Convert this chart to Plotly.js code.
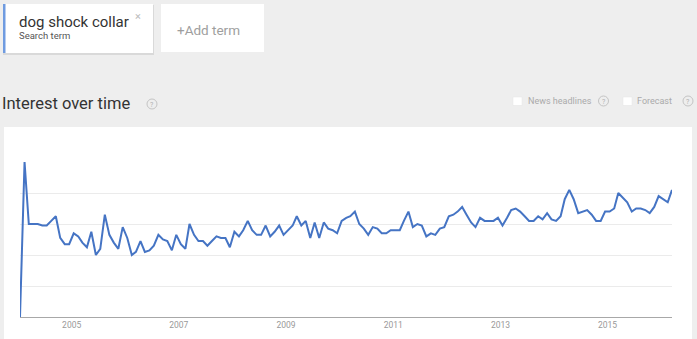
<!DOCTYPE html>
<html>
<head>
<meta charset="utf-8">
<script src="https://cdn.plot.ly/plotly-3.0.1.min.js"></script>
<style>
  html, body { margin: 0; padding: 0; background: #eeeeee; }
  #chart { width: 697px; height: 339px; }
</style>
</head>
<body>
<div id="chart"></div>
<script>
// ---- data ----
const searchTerm = "dog shock collar";
const startYear = 2004;
const startMonth = 1;
const interest = [
  0, 100, 60, 60, 60, 59, 59, 62, 65, 51, 47, 47,
  54, 52, 48, 45, 55, 40, 44, 66, 53, 48, 44, 58,
  51, 40, 42, 49, 42, 43, 46, 53, 50, 49, 43, 53,
  47, 44, 60, 53, 49, 49, 46, 49, 52, 51, 51, 45,
  55, 52, 56, 62, 56, 53, 53, 59, 52, 55, 59, 53,
  56, 59, 65, 59, 62, 51, 61, 51, 61, 57, 56, 54,
  62, 64, 65, 68, 60, 57, 53, 58, 57, 54, 54, 56,
  56, 56, 62, 68, 58, 60, 59, 52, 54, 53, 57, 58,
  65, 66, 68, 71, 66, 61, 58, 64, 62, 62, 62, 64,
  59, 64, 69, 70, 68, 65, 62, 62, 65, 63, 67, 63,
  62, 65, 76, 82, 76, 67, 68, 69, 66, 62, 62, 68,
  68, 70, 80, 77, 74, 68, 70, 70, 69, 67, 71, 78,
  76, 74, 82
];
const tickDates = ["2005-01-01", "2007-01-01", "2009-01-01", "2011-01-01", "2013-01-01", "2015-01-01"];
const tickLabels = ["2005", "2007", "2009", "2011", "2013", "2015"];

// month categories (mid-month)
const months = interest.map((_, i) => {
  const m0 = startMonth - 1 + i;
  const y = startYear + Math.floor(m0 / 12);
  const m = (m0 % 12) + 1;
  return y + "-" + String(m).padStart(2, "0") + "-15";
});

// ---- layout helpers (pixel -> paper) ----
const W = 697, H = 339;
const M = { l: 20, r: 25, t: 162, b: 22 };
const PW = W - M.l - M.r, PH = H - M.t - M.b;
const px = x => (x - M.l) / PW;
const py = y => (H - M.b - y) / PH;

function rect(x0, y0, x1, y1, fill, line) {
  return { type: "rect", xref: "paper", yref: "paper", layer: "below",
    x0: px(x0), x1: px(x1), y0: py(y1), y1: py(y0),
    fillcolor: fill, line: line || { width: 0 } };
}
function circ(cx, cy, r) {
  return { type: "circle", xref: "paper", yref: "paper", layer: "below",
    x0: px(cx - r), x1: px(cx + r), y0: py(cy + r), y1: py(cy - r),
    fillcolor: "rgba(0,0,0,0)", line: { color: "#c4c4c4", width: 1 } };
}
function txt(x, y, text, size, color, anchor) {
  return { xref: "paper", yref: "paper", x: px(x), y: py(y), text: text,
    showarrow: false, xanchor: anchor || "left", yanchor: "middle",
    borderpad: 0, borderwidth: 0,
    font: { family: "Roboto, Arial, sans-serif", size: size, color: color } };
}

const shapes = [
  // chart panel
  rect(4, 127, 692, 339, "#ffffff"),
  // search term card
  rect(3, 5, 154, 55, "#d9d9d9"),
  rect(3, 4, 153, 53, "#ffffff"),
  rect(3, 4, 5.5, 53, "#6f9be0"),
  // add term card
  rect(161, 4, 264, 52, "#ffffff"),
  // help icons
  circ(152, 104, 5),
  circ(603.5, 101, 5),
  circ(688, 101, 5),
  // checkboxes
  rect(513, 97, 522, 105.5, "#ffffff", { color: "#e4e4e4", width: 0.5 }),
  rect(623, 97, 632, 105.5, "#ffffff", { color: "#e4e4e4", width: 0.5 })
];

const annotations = [
  txt(19, 21.5, searchTerm, 15, "#333333"),
  txt(19, 36, "Search term", 9.5, "#555555"),
  txt(138, 16, "×", 11, "#bbbbbb", "center"),
  txt(176.5, 29.5, "+Add term", 13.5, "#9e9e9e"),
  txt(1.5, 103, "Interest over time", 16.5, "#333333"),
  txt(152, 104.5, "?", 7, "#b0b0b0", "center"),
  txt(528, 101, "News headlines", 9, "#aaaaaa"),
  txt(603.5, 101.5, "?", 7, "#b0b0b0", "center"),
  txt(637, 101, "Forecast", 9, "#aaaaaa"),
  txt(688, 101.5, "?", 7, "#b0b0b0", "center")
];

const trace = {
  type: "scatter", mode: "lines",
  x: months, y: interest,
  line: { color: "#4574c4", width: 2 },
  hoverinfo: "x+y"
};

const layout = {
  width: W, height: H,
  margin: M,
  paper_bgcolor: "#eeeeee",
  plot_bgcolor: "#ffffff",
  showlegend: false,
  xaxis: {
    type: "date",
    range: [months[0], months[months.length - 1]],
    tickvals: tickDates, ticktext: tickLabels,
    showgrid: false, zeroline: false,
    showline: true, linecolor: "#a8a8a8", linewidth: 1,
    ticks: "", tickfont: { family: "Roboto, Arial, sans-serif", size: 8.5, color: "#999999" }
  },
  yaxis: {
    range: [0, 100], dtick: 20, tick0: 0,
    showgrid: true, gridcolor: "#ebebeb", gridwidth: 1,
    zeroline: false, showticklabels: false, ticks: "", showline: false
  },
  shapes: shapes,
  annotations: annotations
};

Plotly.newPlot("chart", [trace], layout, { displayModeBar: false, staticPlot: true });
</script>
</body>
</html>
